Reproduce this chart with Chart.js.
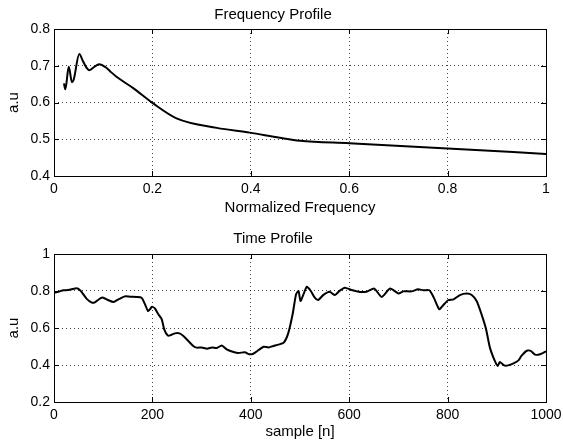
<!DOCTYPE html>
<html>
<head>
<meta charset="utf-8">
<script src="https://cdn.jsdelivr.net/npm/chart.js@4.4.1/dist/chart.umd.min.js"></script>
<style>
  html, body { margin: 0; padding: 0; background: #fff; }
  .wrap { position: absolute; left: 0; width: 563px; height: 222px; }
  #top-wrap { top: 0; }
  #bot-wrap { top: 222px; }
</style>
</head>
<body>
<div class="wrap" id="top-wrap"><canvas id="freq-chart" width="563" height="222"></canvas></div>
<div class="wrap" id="bot-wrap"><canvas id="time-chart" width="563" height="222"></canvas></div>
<script>
// Frequency profile (normalized frequency vs a.u)
const freqX = [0.0203, 0.023, 0.030, 0.0366, 0.040, 0.0514, 0.058, 0.065, 0.0717, 0.080, 0.092,
               0.105, 0.115, 0.127, 0.161, 0.2, 0.249, 0.331, 0.398, 0.459, 0.5, 0.6, 0.8, 1.0];
const freqY = [0.652, 0.636, 0.697, 0.655, 0.662, 0.732, 0.715, 0.697, 0.688, 0.695, 0.704,
               0.696, 0.684, 0.670, 0.639, 0.599, 0.557, 0.531, 0.518, 0.504, 0.496, 0.489, 0.475, 0.460];

// Time profile (sample index vs a.u)
const timeN = [0, 9, 19, 29, 43, 49, 56, 66, 77, 83, 94, 100, 111, 121, 131, 144, 155, 168, 178, 185,
               191, 195, 199, 205, 212, 219, 224, 231, 236, 246, 255, 263, 273, 283, 290, 300, 311, 321,
               331, 341, 351, 365, 375, 388, 397, 405, 416, 426, 436, 446, 456, 467, 476, 485, 492, 497,
               501, 507, 514, 522, 530, 537, 547, 560, 571, 580, 591, 605, 622, 635, 651, 666, 683, 700,
               710, 727, 740, 751, 763, 772, 783, 791, 801, 812, 825, 839, 849, 859, 869, 878, 886, 896,
               902, 906, 915, 923, 934, 944, 950, 961, 969, 978, 988, 1000];
const timeV = [0.791, 0.796, 0.804, 0.805, 0.814, 0.813, 0.795, 0.759, 0.737, 0.739, 0.760, 0.764, 0.750,
               0.741, 0.755, 0.771, 0.769, 0.768, 0.764, 0.728, 0.692, 0.701, 0.715, 0.706, 0.674, 0.647,
               0.593, 0.560, 0.560, 0.571, 0.571, 0.557, 0.530, 0.503, 0.494, 0.495, 0.488, 0.495, 0.492,
               0.506, 0.485, 0.470, 0.465, 0.469, 0.458, 0.461, 0.481, 0.499, 0.495, 0.503, 0.510, 0.521,
               0.571, 0.674, 0.782, 0.800, 0.746, 0.782, 0.823, 0.800, 0.764, 0.751, 0.778, 0.796, 0.778,
               0.800, 0.818, 0.805, 0.795, 0.796, 0.813, 0.768, 0.813, 0.787, 0.798, 0.798, 0.809, 0.804,
               0.804, 0.764, 0.701, 0.723, 0.750, 0.755, 0.778, 0.786, 0.778, 0.746, 0.674, 0.596, 0.494,
               0.422, 0.395, 0.416, 0.398, 0.398, 0.409, 0.425, 0.449, 0.477, 0.476, 0.456, 0.458, 0.474];

const FONT = "'Liberation Sans', Arial, Helvetica, sans-serif";

// plain number labels, no thousands separator
const fmt = v => String(Math.round(v * 1000) / 1000);

// MATLAB-like box with inward tick marks
const boxPlugin = {
  id: 'box',
  afterDatasetsDraw(chart) {
    const { ctx, chartArea: a, scales } = chart;
    ctx.save();
    ctx.strokeStyle = '#000';
    ctx.lineWidth = 1;
    ctx.strokeRect(Math.round(a.left) + 0.5, Math.round(a.top) + 0.5,
                   Math.round(a.right - a.left), Math.round(a.bottom - a.top));
    const tl = 5;
    ctx.beginPath();
    scales.x.ticks.forEach(t => {
      const px = Math.round(scales.x.getPixelForValue(t.value)) + 0.5;
      ctx.moveTo(px, a.bottom); ctx.lineTo(px, a.bottom - tl);
      ctx.moveTo(px, a.top);    ctx.lineTo(px, a.top + tl);
    });
    scales.y.ticks.forEach(t => {
      const py = Math.round(scales.y.getPixelForValue(t.value)) + 0.5;
      ctx.moveTo(a.left, py);  ctx.lineTo(a.left + tl, py);
      ctx.moveTo(a.right, py); ctx.lineTo(a.right - tl, py);
    });
    ctx.stroke();
    ctx.restore();
  },
};

function makeChart(id, xs, ys, opts) {
  return new Chart(document.getElementById(id), {
    type: 'line',
    data: {
      datasets: [{
        data:        xs.map((x, i) => ({ x, y: ys[i] })),
        borderColor: '#000',
        borderWidth: 2,
        pointRadius: 0,
        tension:     opts.tension,
        cubicInterpolationMode: opts.cubic ? 'monotone' : 'default',
        fill:        false,
      }],
    },
    options: {
      responsive: false,
      animation:  false,
      devicePixelRatio: 1,
      layout: { padding: { left: 0, right: 17, top: 0, bottom: 0 } },
      plugins: {
        legend:  { display: false },
        tooltip: { enabled: false },
        title: {
          display: true,
          text:    opts.title,
          color:   '#000',
          font:    { family: FONT, size: 15, weight: 'normal' },
          padding: opts.titlePad,
        },
      },
      scales: {
        x: {
          type: 'linear',
          min:  opts.xMin, max: opts.xMax,
          ticks: { stepSize: opts.xStep, color: '#000', padding: 5, maxRotation: 0,
                   font: { family: FONT, size: 14 }, callback: fmt },
          grid:  { color: 'rgba(0,0,0,0.75)', lineWidth: 1, drawTicks: false },
          border: { display: false, dash: [1, 3] },
          title: { display: true, text: opts.xLabel, color: '#000',
                   font: { family: FONT, size: 15 }, padding: { top: 0, bottom: opts.xTitleBottom } },
          afterFit(scale) {
            scale.height = opts.xHeight;
            scale.paddingLeft = 0;
            scale.paddingRight = 0;
          },
        },
        y: {
          min:  opts.yMin, max: opts.yMax,
          ticks: { stepSize: opts.yStep, color: '#000', padding: 4,
                   font: { family: FONT, size: 14 }, callback: fmt },
          grid:  { color: 'rgba(0,0,0,0.75)', lineWidth: 1, drawTicks: false },
          border: { display: false, dash: [1, 3] },
          title: { display: true, text: 'a.u', color: '#000',
                   font: { family: FONT, size: 15 }, padding: { top: 5, bottom: 0 } },
          afterFit(scale) {
            scale.width = 54;
            scale.paddingTop = 0;
            scale.paddingBottom = 0;
          },
        },
      },
    },
    plugins: [boxPlugin],
  });
}

makeChart('freq-chart', freqX, freqY, {
  title: 'Frequency Profile', titlePad: { top: 6, bottom: 5 },
  xMin: 0, xMax: 1, xStep: 0.2, xLabel: 'Normalized Frequency', xHeight: 46, xTitleBottom: 5,
  yMin: 0.4, yMax: 0.8, yStep: 0.1, tension: 0, cubic: true,
});

makeChart('time-chart', timeN, timeV, {
  title: 'Time Profile', titlePad: { top: 8, bottom: 6 },
  xMin: 0, xMax: 1000, xStep: 200, xLabel: 'sample [n]', xHeight: 42, xTitleBottom: 3,
  yMin: 0.2, yMax: 1, yStep: 0.2, tension: 0.2, cubic: false,
});
</script>
</body>
</html>
